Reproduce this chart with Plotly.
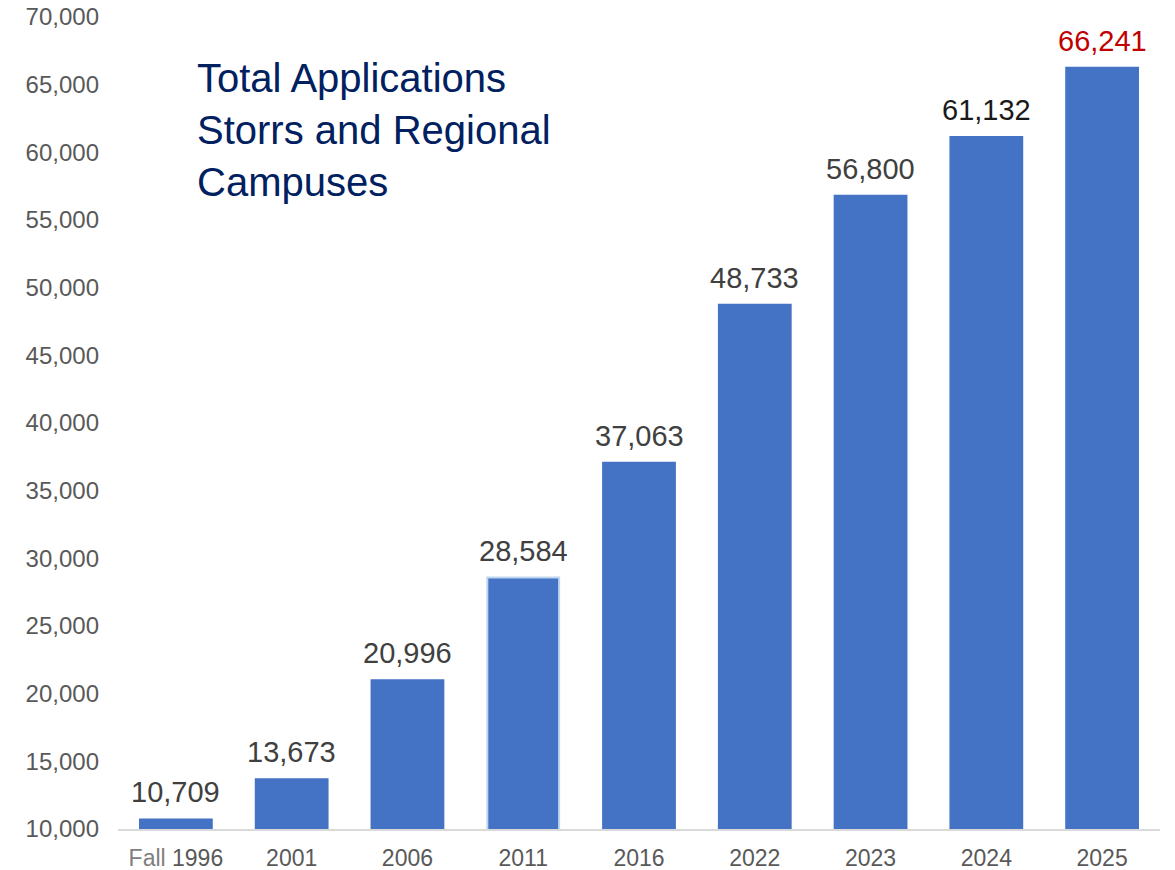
import plotly.graph_objects as go

categories = ["Fall 1996", "2001", "2006", "2011", "2016", "2022", "2023", "2024", "2025"]
values = [10709, 13673, 20996, 28584, 37063, 48733, 56800, 61132, 66241]
tick_labels = ["<span style='color:#808080'>Fall</span> 1996", "2001", "2006", "2011", "2016", "2022", "2023", "2024", "2025"]
label_colors = ["#404040"] * 7 + ["#1a1a1a", "#C00000"]
outline_colors = ["#4472C4"] * 3 + ["#BDD7EE"] + ["#4472C4"] * 5
y_ticks = list(range(10000, 70001, 5000))

fig = go.Figure(go.Bar(
    x=categories,
    y=values,
    marker=dict(color="#4472C4", line=dict(color=outline_colors, width=2)),
    cliponaxis=False,
))

for i, (v, col) in enumerate(zip(values, label_colors)):
    fig.add_annotation(
        x=i, y=v, text=f"{v:,}", showarrow=False,
        xanchor="center", yanchor="bottom", yshift=9,
        font=dict(size=29, color=col, family="Liberation Sans"),
    )

fig.update_layout(
    width=1175, height=870,
    margin=dict(l=118, r=15, t=17, b=41),
    plot_bgcolor="white", paper_bgcolor="white",
    bargap=0.38,
    showlegend=False,
    font=dict(family="Liberation Sans", color="#595959"),
    xaxis=dict(
        type="category", categoryorder="array", categoryarray=categories,
        range=[-0.5, len(categories) - 0.5],
        tickmode="array", tickvals=categories, ticktext=tick_labels,
        tickfont=dict(size=23, color="#595959"),
        showline=True, linecolor="#d9d9d9", linewidth=1.5,
        ticks="outside", ticklen=8, tickcolor="rgba(0,0,0,0)",
        showgrid=False, automargin=False,
    ),
    yaxis=dict(
        range=[10000, 70000], tickvals=y_ticks,
        tickformat=",d",
        tickfont=dict(size=24, color="#595959"),
        showgrid=False, zeroline=False, showline=False,
        ticklabelstandoff=18, automargin=False,
        ticklabeloverflow="allow",
    ),
)

fig.add_annotation(
    text="Total Applications<br>Storrs and Regional<br>Campuses",
    xref="paper", yref="paper", x=0.074, y=0.954,
    xanchor="left", yanchor="top", align="left", showarrow=False,
    font=dict(size=40, color="#002060", family="Liberation Sans"),
)

fig.write_html(
    "out.html",
    config={"displayModeBar": False},
    post_script="document.body.style.margin='0';document.body.style.overflow='hidden';",
)
